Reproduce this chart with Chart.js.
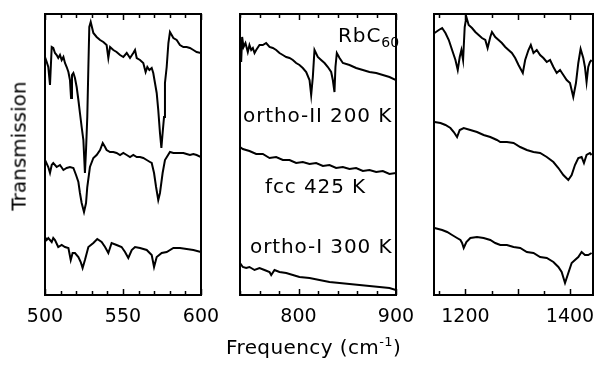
<!DOCTYPE html>
<html>
<head>
<meta charset="utf-8">
<script src="https://cdn.jsdelivr.net/npm/chart.js@4.4.1/dist/chart.umd.min.js"></script>
<style>
  body { margin: 0; background: #fff; overflow: hidden; }
  #wrap { position: relative; width: 600px; height: 365px; background: #fff; font-family: "DejaVu Sans", sans-serif; color: #000; overflow: hidden; }
  canvas { position: absolute; top: 0; }
  .txt { position: absolute; white-space: nowrap; font-size: 20px; line-height: 20px; }
  sup { font-size: 13px; vertical-align: 8px; line-height: 0; }
</style>
</head>
<body>
<div id="wrap">
  <canvas id="p1" width="228" height="365" style="left:0px"></canvas>
  <canvas id="p2" width="198" height="365" style="left:225px"></canvas>
  <canvas id="p3" width="186" height="365" style="left:420px"></canvas>
  <div class="txt" style="left:-46px;top:136px;transform:rotate(-90deg);">Transmission</div>
  <div class="txt" style="left:226px;top:337px;letter-spacing:0.4px;">Frequency (cm<sup>-1</sup>)</div>
</div>
<script>
// panel 1 : 500-600 cm-1
var p1Ticks = [500, 550, 600];
var p1FreqA = [500,501.1,502.1,503.2,504.3,505.3,506.4,507.5,508.5,509.6,510.7,511.8,512.8,513.9,515,516,516.7,517.3,518.2,519.2,520.3,521.4,522.4,523.5,524.6,525.6,526.3,527.1,527.8,528.4,529.3,531,533.1,535.3,537.4,539.5,540.6,541.7,543.8,545.9,548.1,550.2,552.4,554.5,556.6,557.7,558.8,560.9,563,564.5,565.6,566.9,568.4,569.4,570.5,571.6,572.6,573.7,574.6,575.4,576.3,576.9,578,579.1,580.1,581.2,582.3,584.4,586.5,588.7,590.8,592.9,595.1,597.2,600];
var p1TransA = [238,233,228,210,248,247,242,240,237,240,235,238,232,228,223,215,197,220,222,217,208,195,182,168,155,122,145,178,228,268,273,262,258,255,253,250,237,248,245,243,240,238,242,237,242,245,237,235,232,223,228,225,227,222,212,202,185,162,147,162,178,212,228,252,263,260,257,255,250,248,248,247,245,243,242];
var p1FreqB = [500,502.1,503.2,504.3,505.3,507.5,509.6,511.8,513.9,516,518.2,519.9,521.4,522.4,523.5,525,526.3,527.1,528.8,531,533.1,535.3,537,538.5,539.5,541.7,543.8,545.9,548.1,550.2,552.4,554.5,556.6,558.8,560.9,563,565.2,567.3,568.4,569.9,571.2,572.6,573.7,575.4,576.9,580.1,582.3,584.4,586.5,588.7,590.8,592.9,595.1,597.2,600];
var p1TransB = [135,128,122,130,132,128,130,125,127,128,127,120,113,102,92,83,92,108,128,137,140,145,152,148,145,143,143,142,140,142,140,138,140,138,138,137,135,133,132,122,108,95,102,122,135,143,142,142,142,142,141,140,141,140,138];
var p1FreqC = [500,501.1,502.1,504.3,505.3,506.4,508.5,510.7,512.8,515,516.5,517.7,519.2,521.4,522.9,524.1,525.6,527.8,531,533.5,536.3,538.5,540.6,542.7,545.9,549.1,551.3,553.4,555.6,557.7,560.9,565.2,568.4,569.9,571.6,574.8,578,582.3,586.5,590.8,595.1,600];
var p1TransC = [58,55,57,53,57,55,48,50,48,47,35,42,42,38,33,27,35,48,52,56,53,48,42,52,50,48,43,37,45,48,47,45,40,28,38,42,43,47,47,46,45,43];

// panel 2 : 740-900 cm-1
var p2Ticks = [800, 900];
var p2FreqA = [740,740.8,741.2,742.2,743.6,745.6,748,749.7,751.5,753.2,754.9,756.6,760,763.4,766.8,770.3,773.7,777.1,780.5,783.9,787.4,790.8,794.2,797.6,801,804.4,807.9,811.3,813,814.7,816.4,819.8,823.2,826.7,830.1,833.5,835.2,836.9,837.9,839.3,842.1,845.5,852.3,859.1,866,872.8,879.7,886.5,893.3,900];
var p2TransA = [235,255,233,258,248,252,243,250,245,247,242,245,250,250,252,248,247,245,242,240,238,237,235,232,230,227,223,215,200,218,245,238,235,232,228,223,215,203,228,242,237,232,230,227,225,223,222,220,218,215];
var p2FreqB = [740,742.9,749.7,756.6,763.4,770.3,777.1,783.9,790.8,797.6,804.4,811.3,818.1,825,831.8,838.6,845.5,852.3,859.1,866,872.8,879.7,886.5,893.3,900];
var p2TransB = [148,146,144,141,141,137,138,135,135,132,133,131,132,129,130,127,128,126,127,124,125,123,124,121,122];
var p2FreqC = [740,742.9,746.3,749.7,754.9,760,765.1,770.3,772,775.4,780.5,787.4,794.2,801,811.3,821.5,831.8,842.1,852.3,862.6,872.8,883.1,893.3,900];
var p2TransC = [32,28,27,28,25,27,25,23,20,25,23,22,20,18,17,15,13,12,11,10,9,8,7,5];

// panel 3 : 1140-1444 cm-1
var p3Ticks = [1200, 1400];
var p3FreqA = [1141,1149.2,1155.6,1161.9,1168.3,1174.6,1181,1185.4,1189.2,1192.4,1195.6,1198.7,1201.9,1206.3,1212.7,1219,1225.4,1231.7,1238.1,1242.5,1247.6,1250.8,1257.1,1263.5,1269.8,1276.2,1282.5,1288.9,1295.2,1301.6,1309.8,1314.3,1320.6,1325.1,1330.2,1336.5,1342.9,1349.2,1355.6,1361.9,1368.3,1374.6,1381,1387.3,1393.7,1400,1406.3,1411.4,1415.9,1420.3,1425.4,1428.6,1431.7,1434.9,1438.1,1441.3];
var p3TransA = [262,265,267,262,255,245,235,225,238,245,235,268,278,270,267,263,260,257,255,247,258,263,258,255,252,248,245,242,237,230,222,235,245,250,242,245,240,237,233,235,228,222,225,220,215,212,198,212,232,246,237,228,213,228,233,235];
var p3FreqB = [1141,1152.4,1161.9,1171.4,1177.8,1184.1,1189.2,1196.8,1209.5,1222.2,1234.9,1247.6,1260.3,1266.7,1279.4,1292.1,1304.8,1317.5,1330.2,1342.9,1355.6,1368.3,1377.8,1387.3,1396.8,1403.2,1409.5,1415.9,1422.2,1426.7,1431.7,1438.1,1441.3];
var p3TransB = [173,172,170,167,163,158,165,167,165,163,160,158,155,153,153,152,148,145,143,142,138,133,127,120,115,120,130,137,138,132,140,142,140];
var p3FreqC = [1141,1155.6,1165.1,1174.6,1184.1,1190.5,1193.7,1196.8,1201.9,1209.5,1222.2,1234.9,1247.6,1257.1,1266.7,1279.4,1292.1,1304.8,1317.5,1330.2,1342.9,1355.6,1368.3,1377.8,1384.1,1390.5,1396.8,1403.2,1409.5,1415.9,1422.2,1428.6,1434.9,1441.3];
var p3TransC = [67,65,63,60,57,55,52,47,53,57,58,57,55,52,50,50,48,47,43,42,38,37,33,28,23,12,22,32,35,38,43,40,40,42];

var seriesNames = ["ortho-II 200 K", "fcc 425 K", "ortho-I 300 K"];
var ink = "#000";
var fontFam = "'DejaVu Sans', sans-serif";

function pairs(xs, ys) {
  return xs.map(function (x, i) { return { x: x, y: ys[i] }; });
}

// box round the plot and small inward ticks top and bottom
var frame = {
  id: "frame",
  afterDatasetsDraw: function (chart, args, opts) {
    var ctx = chart.ctx, a = chart.chartArea, x = chart.scales.x;
    ctx.save();
    ctx.strokeStyle = ink;
    ctx.lineWidth = 2;
    ctx.strokeRect(a.left, a.top, a.right - a.left, a.bottom - a.top);
    ctx.lineWidth = 1.5;
    for (var v = Math.ceil(x.min / opts.minor) * opts.minor; v <= x.max; v += opts.minor) {
      var px = Math.round(x.getPixelForValue(v)) + 0.5;
      var len = v % opts.major === 0 ? 6 : 4;
      ctx.beginPath();
      ctx.moveTo(px, a.bottom); ctx.lineTo(px, a.bottom - len);
      ctx.moveTo(px, a.top); ctx.lineTo(px, a.top + len);
      ctx.stroke();
    }
    ctx.restore();
  }
};

// sample labels written inside the middle panel
var labels = {
  id: "labels",
  afterDraw: function (chart, args, opts) {
    if (!opts.items) return;
    var ctx = chart.ctx;
    ctx.save();
    ctx.fillStyle = ink;
    ctx.textBaseline = "alphabetic";
    ctx.letterSpacing = "0.9px";
    opts.items.forEach(function (it) {
      ctx.font = "20px " + fontFam;
      ctx.fillText(it.text, it.x, it.y);
      if (it.sub) {
        var w = ctx.measureText(it.text).width;
        ctx.font = "14px " + fontFam;
        ctx.letterSpacing = "0px";
        ctx.fillText(it.sub, it.x + w, it.y + 5);
        ctx.letterSpacing = "0.9px";
      }
    });
    ctx.restore();
  }
};

function panel(id, xmin, xmax, ticks, minor, major, traces, pad, items) {
  new Chart(id, {
    type: "line",
    data: {
      datasets: traces.map(function (t, i) {
        return {
          label: seriesNames[i],
          data: pairs(t[0], t[1]),
          borderColor: ink,
          borderWidth: 2,
          pointRadius: 0,
          tension: 0,
          fill: false
        };
      })
    },
    options: {
      responsive: false,
      animation: false,
      devicePixelRatio: 1,
      layout: { padding: pad },
      plugins: {
        legend: { display: false },
        tooltip: { enabled: false },
        frame: { minor: minor, major: major },
        labels: { items: items }
      },
      scales: {
        x: {
          type: "linear",
          min: xmin,
          max: xmax,
          afterBuildTicks: function (s) { s.ticks = ticks.map(function (v) { return { value: v }; }); },
          afterFit: function (s) { s.height = 70; },
          grid: { display: false, drawTicks: false },
          border: { display: false },
          ticks: {
            color: ink, padding: 7, maxRotation: 0, autoSkip: false,
            font: { family: fontFam, size: 19, lineHeight: 1.55 },
            callback: function (v) { return String(v); }
          }
        },
        y: { display: false, min: 0, max: 281 }
      }
    },
    plugins: [frame, labels]
  });
}

panel("p1", 500, 600, p1Ticks, 10, 50,
  [[p1FreqA, p1TransA], [p1FreqB, p1TransB], [p1FreqC, p1TransC]],
  { left: 45, right: 27, top: 14, bottom: 0 }, null);

panel("p2", 740, 900, p2Ticks, 20, 100,
  [[p2FreqA, p2TransA], [p2FreqB, p2TransB], [p2FreqC, p2TransC]],
  { left: 15, right: 27, top: 14, bottom: 0 },
  [
    { text: "RbC", sub: "60", x: 113, y: 42 },
    { text: "ortho-II 200 K", x: 18, y: 122 },
    { text: "fcc 425 K", x: 40, y: 193 },
    { text: "ortho-I 300 K", x: 25, y: 253 }
  ]);

panel("p3", 1140, 1444, p3Ticks, 50, 100,
  [[p3FreqA, p3TransA], [p3FreqB, p3TransB], [p3FreqC, p3TransC]],
  { left: 14, right: 13, top: 14, bottom: 0 }, null);
</script>
</body>
</html>
